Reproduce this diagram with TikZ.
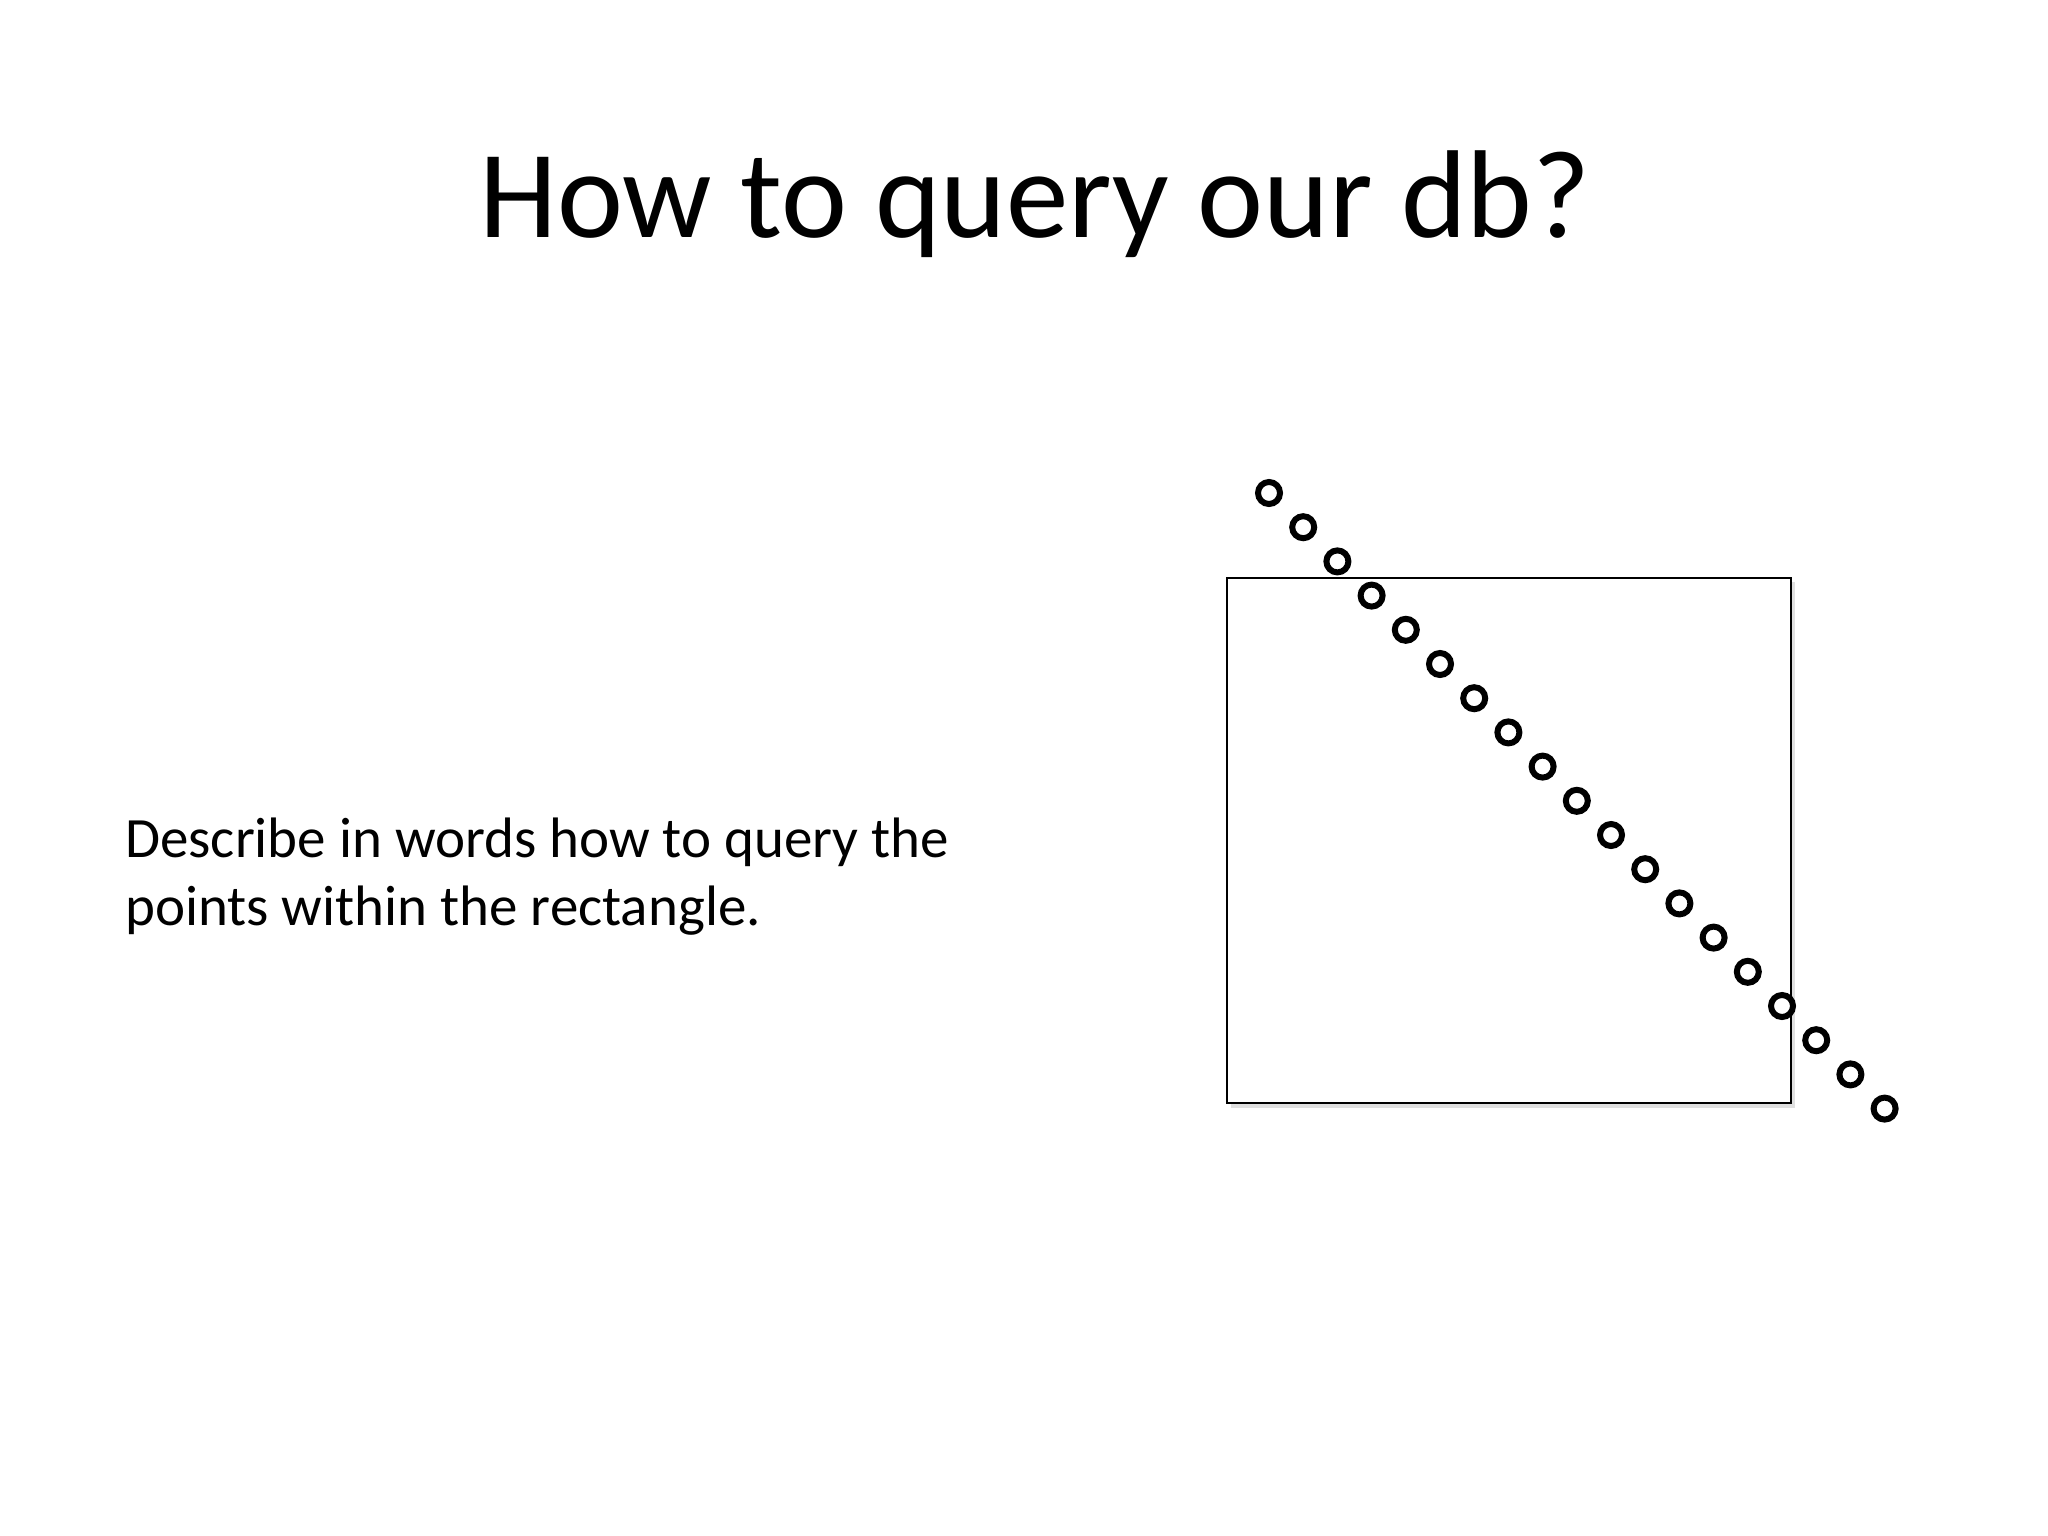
\documentclass[tikz,border=0pt]{standalone}
\usepackage{fontspec}
\setmainfont{Carlito}
\begin{document}
\begin{tikzpicture}[x=1pt,y=-1pt,
  pt/.style={circle,draw=black,line width=6pt,minimum size=22pt,inner sep=0pt}]
\useasboundingbox (0,0) rectangle (2048,1536);
\node[anchor=base,font=\fontsize{125}{150}\selectfont] (title) at (1035,237) {How to query our db?};
\node[anchor=base west,align=left,inner sep=0pt,font=\fontsize{57}{68}\selectfont] (desc) at (125,925) {Describe in words how to query the\\points within the rectangle.};
\fill[black!12] (1231,582) rectangle (1795,1108);
\draw[line width=2.8pt,fill=white] (1227,578) rectangle (1791,1103);
\foreach \i in {0,...,18}{
  \node[pt] (p\i) at ({1269+34.2*\i},{493+34.2*\i}) {};
}
\end{tikzpicture}
\end{document}
